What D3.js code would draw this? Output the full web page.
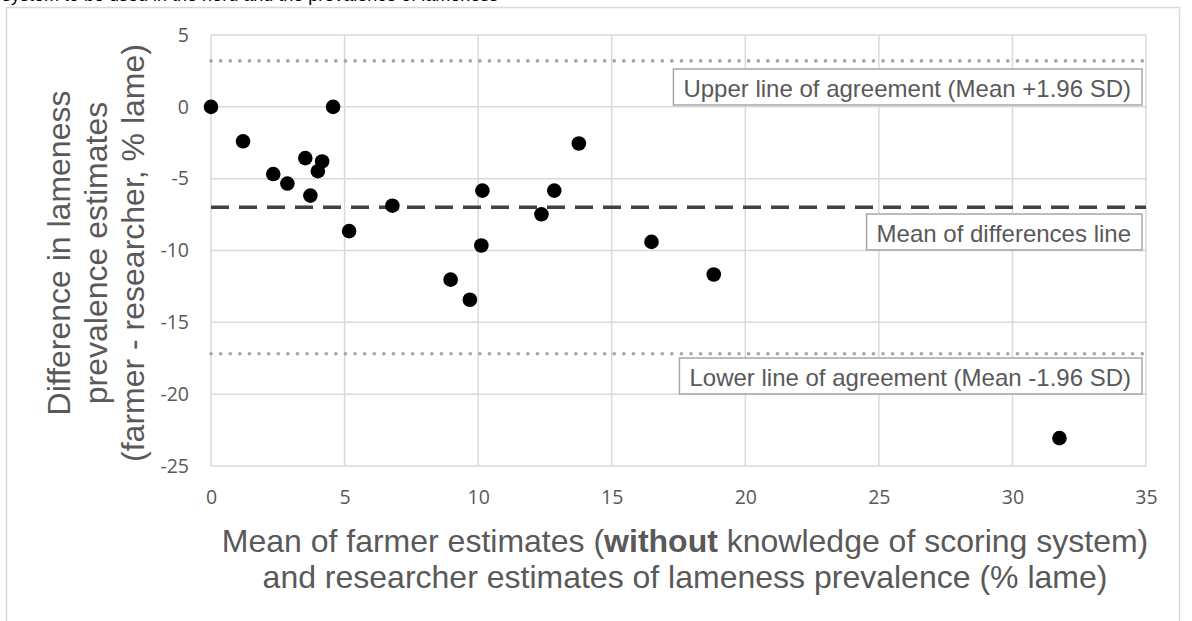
<!DOCTYPE html>
<html>
<head>
<meta charset="utf-8">
<script src="https://cdn.jsdelivr.net/npm/d3@7"></script>
<style>
  html, body { margin: 0; padding: 0; background: #fff; }
  svg { display: block; }
</style>
</head>
<body>
<svg id="chart" width="1192" height="621"></svg>
<script>
// Bland–Altman data: mean of the two estimates (x) and farmer − researcher difference (y), % lame
const meanEstimates = [0, 1.2, 2.33, 2.86, 3.53, 3.72, 4.0, 4.16, 4.57, 5.17, 6.79,
                       8.97, 9.69, 10.12, 10.16, 12.37, 12.85, 13.77, 16.49, 18.82, 31.76];
const differences   = [0, -2.4, -4.68, -5.34, -3.57, -6.18, -4.48, -3.8, 0, -8.65, -6.88,
                       -12.03, -13.43, -9.65, -5.83, -7.48, -5.83, -2.55, -9.4, -11.67, -23.06];

const xTicks = [0, 5, 10, 15, 20, 25, 30, 35];
const yTicks = [5, 0, -5, -10, -15, -20, -25];

const yTitleLines = ["Difference in lameness", "prevalence estimates", "(farmer - researcher, % lame)"];
const upperLabel = "Upper line of agreement (Mean +1.96 SD)";
const meanLabel  = "Mean of differences line";
const lowerLabel = "Lower line of agreement (Mean -1.96 SD)";

// Mean difference and 95% limits of agreement
const meanDiff = d3.mean(differences);
const sdDiff = d3.deviation(differences);
const upperLoA = meanDiff + 1.96 * sdDiff;
const lowerLoA = meanDiff - 1.96 * sdDiff;

const svg = d3.select("#chart");
const textGrey = "#595959";
const gridGrey = "#d9d9d9";
const sans = "'Liberation Sans', Arial, sans-serif";
const tickFont = "'Open Sans', sans-serif";

// Caption line continuing from above the chart frame
svg.append("text")
  .attr("x", 2).attr("y", 0.5)
  .attr("font-family", sans).attr("font-size", 18).attr("fill", "#000")
  .text("system to be used in the herd and the prevalence of lameness");

// Chart frame
svg.append("rect")
  .attr("x", 6.5).attr("y", 7.5).attr("width", 1173).attr("height", 700)
  .attr("fill", "#fff").attr("stroke", gridGrey).attr("stroke-width", 1.5);

const x = d3.scaleLinear().domain([0, 35]).range([211, 1146]);
const y = d3.scaleLinear().domain([-25, 5]).range([466, 35]);

// Gridlines
const grid = svg.append("g");
grid.selectAll("line.v").data(xTicks).join("line")
  .attr("x1", d => x(d)).attr("x2", d => x(d))
  .attr("y1", y(5)).attr("y2", y(-25))
  .attr("stroke", gridGrey).attr("stroke-width", 1.5);
grid.selectAll("line.h").data(yTicks).join("line")
  .attr("x1", x(0)).attr("x2", x(35))
  .attr("y1", d => y(d)).attr("y2", d => y(d))
  .attr("stroke", gridGrey).attr("stroke-width", 1.5);

// Axes (labels only, no tick marks); plain hyphen for negatives
const plain = d => String(d);
const xAxis = svg.append("g").attr("transform", `translate(0,${y(-25)})`)
  .call(d3.axisBottom(x).tickValues(xTicks).tickFormat(plain).tickSize(0).tickPadding(24));
const yAxis = svg.append("g").attr("transform", `translate(${x(0)},0)`)
  .call(d3.axisLeft(y).tickValues(yTicks).tickFormat(plain).tickSize(0).tickPadding(22));
[xAxis, yAxis].forEach(a => {
  a.select(".domain").remove();
  a.selectAll("text")
    .attr("font-family", tickFont).attr("font-size", 19.5).attr("fill", textGrey);
});

// Limits of agreement (dotted) and mean difference (dashed)
svg.selectAll("line.loa").data([upperLoA, lowerLoA]).join("line")
  .attr("x1", x(0)).attr("x2", x(35))
  .attr("y1", d => y(d)).attr("y2", d => y(d))
  .attr("stroke", "#a6a6a6").attr("stroke-width", 3.6)
  .attr("stroke-linecap", "round").attr("stroke-dasharray", "0.1 9.5");
svg.append("line")
  .attr("x1", x(0)).attr("x2", x(35))
  .attr("y1", y(meanDiff)).attr("y2", y(meanDiff))
  .attr("stroke", "#404040").attr("stroke-width", 3.5)
  .attr("stroke-dasharray", "18 10");

// Points
svg.append("g").selectAll("circle")
  .data(meanEstimates.map((m, i) => ({ m, d: differences[i] })))
  .join("circle")
  .attr("cx", p => x(p.m)).attr("cy", p => y(p.d))
  .attr("r", 7.3).attr("fill", "#000");

// Boxed labels, right-aligned near the plot edge
function boxedLabel(text, boxTop) {
  const g = svg.append("g");
  const t = g.append("text")
    .attr("x", 1131).attr("y", boxTop + 28)
    .attr("text-anchor", "end")
    .attr("font-family", sans).attr("font-size", 24).attr("fill", textGrey)
    .text(text);
  const w = t.node().getComputedTextLength();
  g.insert("rect", "text")
    .attr("x", 1131 - w - 10).attr("y", boxTop)
    .attr("width", w + 21).attr("height", 36)
    .attr("fill", "#fff").attr("stroke", "#a6a6a6").attr("stroke-width", 1.5);
}
boxedLabel(upperLabel, 69);
boxedLabel(meanLabel, 214);
boxedLabel(lowerLabel, 358);

// Y-axis title (three rotated lines)
const yTitle = svg.append("text")
  .attr("transform", "translate(0,253) rotate(-90)")
  .attr("text-anchor", "middle")
  .attr("font-family", sans).attr("font-size", 32).attr("fill", textGrey);
yTitleLines.forEach((line, i) => {
  yTitle.append("tspan").attr("x", 0).attr("y", 70 + i * 37).text(line);
});

// X-axis title with bold emphasis
const xTitle = svg.append("text")
  .attr("text-anchor", "middle")
  .attr("font-family", sans).attr("font-size", 32).attr("fill", textGrey);
const l1 = xTitle.append("tspan").attr("x", 685).attr("y", 552);
l1.append("tspan").text("Mean of farmer estimates (");
l1.append("tspan").attr("font-weight", "bold").text("without");
l1.append("tspan").text(" knowledge of scoring system)");
xTitle.append("tspan").attr("x", 685).attr("y", 588)
  .text("and researcher estimates of lameness prevalence (% lame)");
</script>
</body>
</html>
